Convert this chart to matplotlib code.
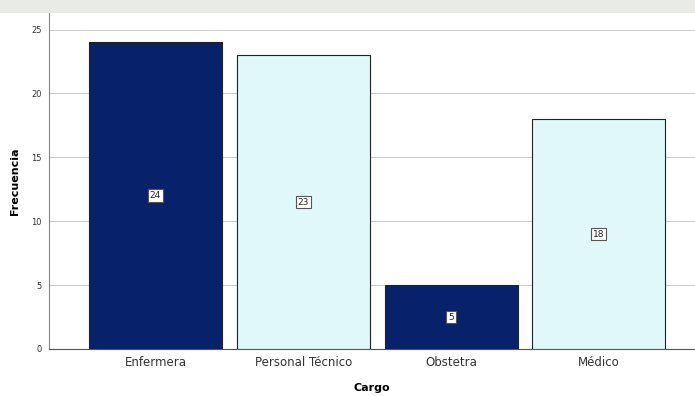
import matplotlib.pyplot as plt
from matplotlib.patches import Rectangle

# frecuencias por cargo
cargos = ['Enfermera', 'Personal Técnico', 'Obstetra', 'Médico']
frecuencias = [24, 23, 5, 18]
colores = ['#07216a', '#e0f8f8', '#07216a', '#e0f8f8']
yticks = [0, 5, 10, 15, 20, 25]

fig = plt.figure(figsize=(6.95, 3.96), dpi=100)
ax = fig.add_axes([49 / 695, 47 / 396, 646 / 695, 336 / 396])

# franja gris superior
fig.patches.append(Rectangle((0, 1 - 13 / 396), 1, 13 / 396, transform=fig.transFigure,
                             facecolor='#e9ebe7', edgecolor='none', zorder=0))

x = range(len(cargos))
ax.bar(x, frecuencias, width=0.9, color=colores, edgecolor='#222222', linewidth=0.8, zorder=3)

for i, v in enumerate(frecuencias):
    ax.text(i, v / 2, str(v), ha='center', va='center', fontsize=6.5, color='#222222', zorder=4,
            bbox=dict(boxstyle='square,pad=0.2', facecolor='white', edgecolor='#555555', linewidth=0.8))

ax.set_xlim(-0.72, 3.65)
ax.set_ylim(0, 26.3)
ax.set_yticks(yticks)
ax.set_xticks(list(x))
ax.set_xticklabels(cargos, fontsize=8.5, color='#333333')
ax.tick_params(axis='y', labelsize=6, colors='#333333', length=0, pad=5)
ax.tick_params(axis='x', length=0, pad=5)
ax.grid(axis='y', color='#cccccc', linewidth=0.8, zorder=0)

for side in ['top', 'right']:
    ax.spines[side].set_visible(False)
ax.spines['left'].set_color('#888888')
ax.spines['bottom'].set_color('#555555')

ax.set_ylabel('Frecuencia', fontsize=8, fontweight='bold', labelpad=8)
ax.set_xlabel('Cargo', fontsize=8, fontweight='bold', labelpad=10)

fig.savefig('out.png', dpi=100)
